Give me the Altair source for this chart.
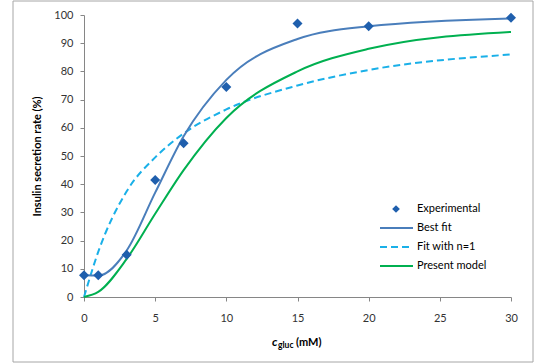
import altair as alt
import pandas as pd

# Experimental data
exp_x = [0, 1, 3, 5, 7, 10, 15, 20, 30]
exp_y = [7.7, 7.7, 15.0, 41.5, 54.5, 74.5, 97.0, 96.0, 99.0]

# Model curves
curve_x = [0, 1, 3, 5, 7, 10, 15, 20, 30]
best_fit = [7.7, 7.6, 16.5, 37.0, 57.0, 77.0, 91.5, 96.0, 98.8]
fit_n1 = [0.0, 16.0, 37.5, 49.5, 58.0, 66.5, 75.0, 80.5, 86.0]
present = [0.0, 1.8, 13.5, 29.5, 45.0, 63.5, 80.0, 88.0, 94.0]

x_ticks = [0, 5, 10, 15, 20, 25, 30]
y_ticks = [0, 10, 20, 30, 40, 50, 60, 70, 80, 90, 100]

legend_labels = ["Experimental", "Best fit", "Fit with n=1", "Present model"]

FONT = "Lato"
DIAMOND = "#1f5fad"
BLUE = "#4a7ebb"
LIGHT = "#1ab0e8"
GREEN = "#00b050"

exp_df = pd.DataFrame({"x": exp_x, "y": exp_y})
cur_df = pd.DataFrame({"x": curve_x, "best": best_fit, "n1": fit_n1, "present": present})

xs = alt.Scale(domain=[0, 30], nice=False, zero=False)
ys = alt.Scale(domain=[0, 100], nice=False)

xaxis = alt.Axis(values=x_ticks, title=None, grid=False,
                 tickSize=4, labelPadding=11, labelFontSize=11,
                 labelFlush=False, labelOverlap=False)
yaxis = alt.Axis(values=y_ticks, title="Insulin secretion rate (%)",
                 grid=False, tickSize=4, labelPadding=7, labelFontSize=11,
                 titleFontSize=11, titleFontWeight="bold", titlePadding=11,
                 titleColor="#000000", labelFlush=False, labelOverlap=False)

base = alt.Chart(cur_df)

best_line = base.mark_line(color=BLUE, strokeWidth=2, interpolate="monotone").encode(
    x=alt.X("x:Q", scale=xs, axis=xaxis),
    y=alt.Y("best:Q", scale=ys, axis=yaxis),
)
n1_line = base.mark_line(color=LIGHT, strokeWidth=2, strokeDash=[7, 4], interpolate="monotone").encode(
    x=alt.X("x:Q", scale=xs, axis=xaxis), y=alt.Y("n1:Q", scale=ys, axis=yaxis)
)
green_line = base.mark_line(color=GREEN, strokeWidth=2, interpolate="monotone").encode(
    x=alt.X("x:Q", scale=xs, axis=xaxis), y=alt.Y("present:Q", scale=ys, axis=yaxis)
)
points = alt.Chart(exp_df).mark_point(shape="diamond", filled=True, size=100, color=DIAMOND, opacity=1).encode(
    x=alt.X("x:Q", scale=xs, axis=xaxis), y=alt.Y("y:Q", scale=ys, axis=yaxis)
)

# Manual legend
leg_rows = [194, 213, 232, 251]
leg_df = pd.DataFrame({"label": legend_labels, "py": leg_rows, "px": [333] * 4})
leg_text = alt.Chart(leg_df).mark_text(align="left", baseline="middle", font=FONT, fontSize=11, color="#000000").encode(
    x=alt.X("px:Q", scale=None), y=alt.Y("py:Q", scale=None), text="label:N"
)
leg_diamond = alt.Chart(leg_df.iloc[[0]]).mark_point(shape="diamond", filled=True, size=60, color=DIAMOND, opacity=1).encode(
    x=alt.value(312), y=alt.value(leg_rows[0])
)
leg_best = alt.Chart(leg_df.iloc[[1]]).mark_rule(color=BLUE, strokeWidth=2).encode(
    x=alt.value(296), x2=alt.value(329), y=alt.value(leg_rows[1]))
leg_n1 = alt.Chart(leg_df.iloc[[2]]).mark_rule(color=LIGHT, strokeWidth=2, strokeDash=[7, 4]).encode(
    x=alt.value(296), x2=alt.value(329), y=alt.value(leg_rows[2]))
leg_green = alt.Chart(leg_df.iloc[[3]]).mark_rule(color=GREEN, strokeWidth=2).encode(
    x=alt.value(296), x2=alt.value(329), y=alt.value(leg_rows[3]))

# X axis title with subscript
t_df = pd.DataFrame({"a": [0]})
xt_c = alt.Chart(t_df).mark_text(text="c", align="left", baseline="alphabetic", font=FONT, fontSize=12,
                                 fontStyle="italic", fontWeight="bold", color="#000000").encode(
    x=alt.value(188), y=alt.value(331))
xt_sub = alt.Chart(t_df).mark_text(text="gluc", align="left", baseline="alphabetic", font=FONT, fontSize=8.5,
                                   fontWeight="bold", color="#000000").encode(
    x=alt.value(194), y=alt.value(333))
xt_unit = alt.Chart(t_df).mark_text(text="(mM)", align="left", baseline="alphabetic", font=FONT, fontSize=11,
                                    fontWeight="bold", color="#000000").encode(
    x=alt.value(212), y=alt.value(331))

# Outer border
border = alt.Chart(t_df).mark_rect(fill=None, stroke="#a6a6a6", strokeWidth=1, clip=False).encode(
    x=alt.value(-71), x2=alt.value(449), y=alt.value(-14), y2=alt.value(347))

chart = alt.layer(
    border, n1_line, green_line, best_line, points,
    leg_diamond, leg_best, leg_n1, leg_green, leg_text,
    xt_c, xt_sub, xt_unit,
).properties(
    width=427, height=282,
    autosize=alt.AutoSizeParams(type="none"),
    padding={"left": 84, "top": 15, "right": 23, "bottom": 67},
    background="white",
).configure_view(stroke=None).configure_axis(
    domainColor="#868686", tickColor="#868686", labelColor="#333333",
    labelFont=FONT, titleFont=FONT,
)

chart.save("out.html", embed_options={"renderer": "svg", "actions": False})
